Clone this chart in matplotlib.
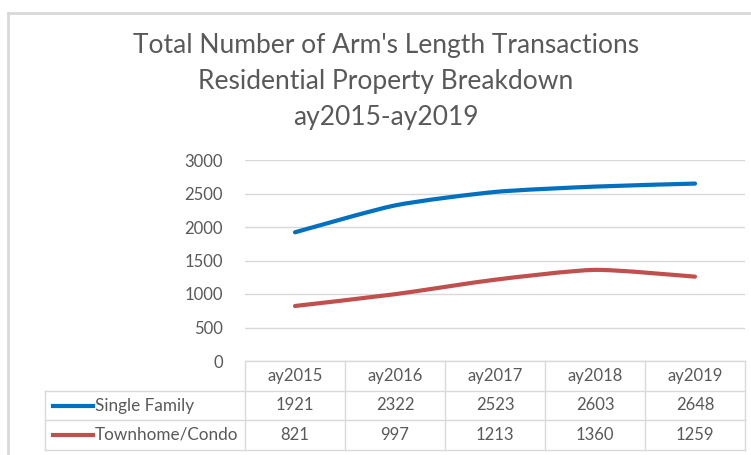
import matplotlib.pyplot as plt
import numpy as np
from matplotlib.path import Path
from matplotlib.patches import PathPatch
from matplotlib.lines import Line2D

plt.rcParams['font.family'] = ['Lato', 'DejaVu Sans']

years = ['ay2015', 'ay2016', 'ay2017', 'ay2018', 'ay2019']
single_family = [1921, 2322, 2523, 2603, 2648]
townhome_condo = [821, 997, 1213, 1360, 1259]
series_names = ['Single Family', 'Townhome/Condo']
colors = ['#0070C0', '#C0504D']
title_lines = ["Total Number of Arm's Length Transactions",
               "Residential Property Breakdown",
               "ay2015-ay2019"]

grey = '#595959'
gridc = '#D9D9D9'


def smooth_path(xs, ys, k=9):
    # gently smoothed line: cubic bezier with catmull-rom style control points
    pts = np.column_stack([xs, ys]).astype(float)
    verts = [pts[0]]
    codes = [Path.MOVETO]
    n = len(pts)
    for i in range(n - 1):
        p0 = pts[i - 1] if i > 0 else pts[i]
        p1 = pts[i]
        p2 = pts[i + 1]
        p3 = pts[i + 2] if i + 2 < n else pts[i + 1]
        c1 = p1 + (p2 - p0) / k
        c2 = p2 - (p3 - p1) / k
        verts += [c1, c2, p2]
        codes += [Path.CURVE4] * 3
    return Path(verts, codes)


fig = plt.figure(figsize=(7.51, 4.55), dpi=100)
ax = fig.add_axes([245 / 751, 94 / 455, 500 / 751, 201 / 455])

x = np.arange(len(years))
for vals, c in zip([single_family, townhome_condo], colors):
    ax.add_patch(PathPatch(smooth_path(x, vals), fill=False, edgecolor=c,
                           lw=3, capstyle='round', joinstyle='round', zorder=3))

ax.set_xlim(-0.5, len(years) - 0.5)
ax.set_ylim(0, 3000)
ax.set_yticks(np.arange(0, 3001, 500))
ax.set_xticks([])
ax.grid(axis='y', color=gridc, lw=1)
ax.set_axisbelow(True)
for s in ax.spines.values():
    s.set_visible(False)
ax.tick_params(axis='y', length=0, pad=16, labelsize=12, labelcolor=grey)

# data table under the plot
h = 201.0
rows = [0, -30 / h, -59 / h, -89 / h]
left = -200 / 500
lc = '#D9D9D9'
tr = ax.transAxes
# horizontal lines
ax.add_line(Line2D([0, 1], [rows[0]] * 2, transform=tr, color=lc, lw=1, clip_on=False))
for r in rows[1:]:
    ax.add_line(Line2D([left, 1], [r] * 2, transform=tr, color=lc, lw=1, clip_on=False))
# vertical lines
for k in range(len(years) + 1):
    xf = k / len(years)
    ax.add_line(Line2D([xf, xf], [rows[0], rows[-1]], transform=tr, color=lc, lw=1, clip_on=False))
ax.add_line(Line2D([left, left], [rows[1], rows[-1]], transform=tr, color=lc, lw=1, clip_on=False))

for k, yr in enumerate(years):
    xf = (k + 0.5) / len(years)
    ax.text(xf, (rows[0] + rows[1]) / 2, yr, transform=tr, ha='center', va='center',
            fontsize=12, color=grey)
    for j, vals in enumerate([single_family, townhome_condo]):
        ax.text(xf, (rows[j + 1] + rows[j + 2]) / 2, str(vals[k]), transform=tr,
                ha='center', va='center', fontsize=12, color=grey)

for j, name in enumerate(series_names):
    yc = (rows[j + 1] + rows[j + 2]) / 2
    ax.add_line(Line2D([left + 8 / 500, left + 48 / 500], [yc, yc], transform=tr,
                       color=colors[j], lw=3, clip_on=False))
    ax.text(left + 50 / 500, yc, name, transform=tr, ha='left', va='center',
            fontsize=12.3, color=grey)

for line, ypix in zip(title_lines, [45, 81, 117]):
    fig.text(386 / 751, 1 - ypix / 455, line, ha='center', va='center', fontsize=19,
             color=grey)

# chart frame
fig.add_artist(Line2D([8 / 751, 1], [1 - 13 / 455] * 2, color='#D9D9D9', lw=2))
fig.add_artist(Line2D([8 / 751] * 2, [0, 1 - 13 / 455], color='#D9D9D9', lw=2))

fig.savefig('out.png', dpi=100)
